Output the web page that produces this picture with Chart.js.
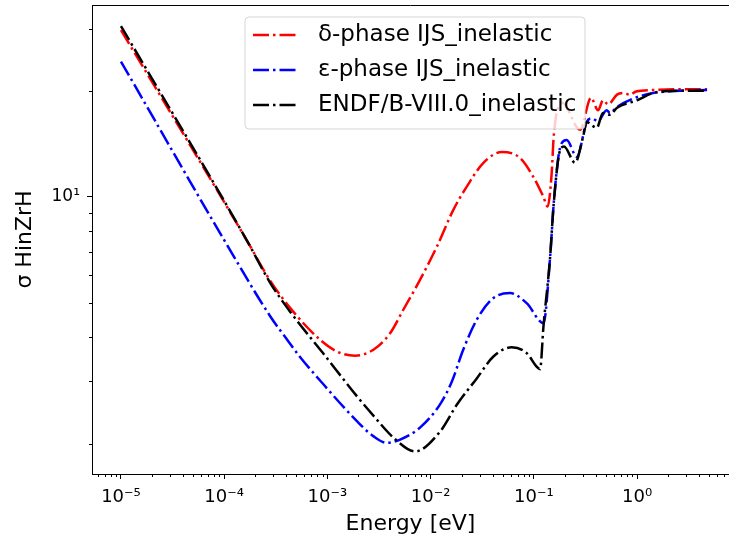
<!DOCTYPE html>
<html lang="en">

<head>
    <meta charset="UTF-8">
    <title>HinZrH inelastic cross section</title>
    <script src="https://cdn.jsdelivr.net/npm/chart.js"></script>
    <style>
        html, body { margin: 0; padding: 0; overflow: hidden; background: #fff; }
    </style>
</head>

<body>
    <canvas id="chart" width="729" height="541"></canvas>

    <script>
        // values (energy in eV, sigma in barn)
        var deltaE = [1e-5, 1.65e-4, 2.78e-4, 4.35e-4, 8.47e-4, 1.23e-3, 1.85e-3, 2.79e-3, 4.05e-3, 5.44e-3, 7.89e-3,
            1.15e-2, 1.66e-2, 2.24e-2, 3.25e-2, 4.89e-2, 7.35e-2, 9.89e-2, 0.124, 0.136, 0.149, 0.155, 0.164, 0.188,
            0.281, 0.358, 0.419, 0.468, 0.524, 0.640, 0.732, 0.855, 0.977, 1.43, 2.61, 4.77];
        var deltaSigma = [29.7, 7.55, 5.80, 4.85, 3.94, 3.65, 3.55, 3.69, 4.11, 4.79, 5.82,
            7.23, 9.19, 10.7, 12.5, 13.4, 12.9, 11.4, 10.0, 9.39, 11.7, 14.5, 16.9, 18.5,
            15.5, 19.1, 17.6, 18.8, 18.3, 19.5, 19.7, 19.5, 19.9, 20.1, 20.2, 20.2];

        var epsE = [1e-5, 1.0e-4, 2.78e-4, 4.35e-4, 5.43e-4, 9.1e-4, 1.92e-3, 2.78e-3, 3.75e-3, 5.0e-3, 7.89e-3,
            1.23e-2, 1.6e-2, 2.07e-2, 2.80e-2, 4.06e-2, 5.88e-2, 8.53e-2, 0.124, 0.144, 0.155, 0.173, 0.186, 0.208,
            0.261, 0.325, 0.364, 0.418, 0.508, 0.547, 0.640, 0.914, 1.43, 2.61, 4.77];
        var epsSigma = [24.2, 7.55, 4.60, 3.84, 3.52, 2.95, 2.32, 2.10, 2.01, 2.05, 2.22,
            2.58, 2.99, 3.69, 4.49, 5.17, 5.34, 5.00, 4.39, 6.78, 9.39, 13.0, 14.2, 14.5,
            13.0, 16.3, 16.7, 16.4, 17.6, 17.3, 18.0, 19.0, 19.7, 20.0, 20.1];

        var endfE = [1e-5, 1.65e-4, 2.78e-4, 4.35e-4, 9.06e-4, 1.92e-3, 2.79e-3, 4.36e-3, 7.06e-3, 1.23e-2, 1.80e-2,
            2.80e-2, 4.06e-2, 6.11e-2, 8.53e-2, 0.107, 0.115, 0.124, 0.144, 0.155, 0.180, 0.196, 0.251, 0.300,
            0.325, 0.407, 0.468, 0.547, 0.640, 1.0, 1.43, 2.61, 4.77];
        var endfSigma = [30.5, 7.55, 5.72, 4.73, 3.61, 2.73, 2.40, 2.08, 1.90, 2.16, 2.58,
            3.06, 3.53, 3.75, 3.61, 3.30, 3.25, 4.30, 6.78, 9.39, 13.6, 13.9, 12.5, 14.8,
            16.3, 15.7, 17.3, 17.1, 17.9, 18.8, 19.7, 20.0, 20.0];

        var seriesLabels = ['δ-phase IJS_inelastic', 'ε-phase IJS_inelastic', 'ENDF/B-VIII.0_inelastic'];
        var seriesColors = ['#ff0000', '#0000ff', '#000000'];

        var xTicks = [1e-5, 1e-4, 1e-3, 1e-2, 1e-1, 1];
        var xTickLabels = ['10⁻⁵', '10⁻⁴', '10⁻³', '10⁻²', '10⁻¹', '10⁰'];
        var yTicks = [10];
        var yTickLabels = ['10¹'];
        var yMinorTicks = [2, 3, 4, 5, 6, 7, 8, 9, 20, 30];

        var FONT = 'DejaVu Sans';
        var dashDot = [16, 4, 2.5, 4];

        function toPoints(xs, ys) {
            return xs.map(function (x, i) { return { x: x, y: ys[i] }; });
        }

        // top spine, minor ticks and the legend box
        var framePlugin = {
            id: 'frame',
            afterDraw: function (chart) {
                var ctx = chart.ctx;
                var a = chart.chartArea;
                var xs = chart.scales.x, ys = chart.scales.y;
                ctx.save();
                ctx.strokeStyle = '#000';
                ctx.lineWidth = 1;
                ctx.beginPath();
                ctx.moveTo(a.left, a.top + 0.5);
                ctx.lineTo(a.right, a.top + 0.5);
                ctx.stroke();

                // minor ticks
                ctx.beginPath();
                for (var e = -6; e <= 1; e++) {
                    for (var m = 2; m <= 9; m++) {
                        var v = m * Math.pow(10, e);
                        if (v < xs.min || v > xs.max) continue;
                        var px = Math.round(xs.getPixelForValue(v)) + 0.5;
                        ctx.moveTo(px, a.bottom);
                        ctx.lineTo(px, a.bottom + 3);
                    }
                }
                yMinorTicks.forEach(function (v) {
                    if (v < ys.min || v > ys.max) return;
                    var py = Math.round(ys.getPixelForValue(v)) + 0.5;
                    ctx.moveTo(a.left, py);
                    ctx.lineTo(a.left - 3, py);
                });
                ctx.stroke();

                // legend
                var bx = 245, by = 17, bw = 340, bh = 112, r = 4;
                ctx.beginPath();
                ctx.moveTo(bx + r, by);
                ctx.arcTo(bx + bw, by, bx + bw, by + bh, r);
                ctx.arcTo(bx + bw, by + bh, bx, by + bh, r);
                ctx.arcTo(bx, by + bh, bx, by, r);
                ctx.arcTo(bx, by, bx + bw, by, r);
                ctx.closePath();
                ctx.fillStyle = 'rgba(255,255,255,0.8)';
                ctx.fill();
                ctx.strokeStyle = 'rgba(204,204,204,0.8)';
                ctx.lineWidth = 1;
                ctx.stroke();

                ctx.font = '23px "' + FONT + '"';
                ctx.textBaseline = 'middle';
                ctx.textAlign = 'left';
                chart.data.datasets.forEach(function (ds, i) {
                    var ry = by + 18 + i * 35;
                    ctx.strokeStyle = ds.borderColor;
                    ctx.lineWidth = 2.5;
                    ctx.setLineDash(dashDot);
                    ctx.beginPath();
                    ctx.moveTo(253, ry);
                    ctx.lineTo(298, ry);
                    ctx.stroke();
                    ctx.setLineDash([]);
                    ctx.fillStyle = '#000';
                    ctx.fillText(ds.label, 318, ry);
                });
                ctx.restore();
            }
        };

        var datasets = [
            [deltaE, deltaSigma],
            [epsE, epsSigma],
            [endfE, endfSigma]
        ].map(function (s, i) {
            return {
                label: seriesLabels[i],
                data: toPoints(s[0], s[1]),
                borderColor: seriesColors[i],
                backgroundColor: seriesColors[i],
                borderWidth: 2.5,
                borderDash: dashDot,
                pointRadius: 0,
                cubicInterpolationMode: 'monotone',
                fill: false,
                order: 3 - i
            };
        });

        Chart.defaults.font.family = FONT;
        Chart.defaults.color = '#000';

        new Chart(document.getElementById('chart'), {
            type: 'line',
            data: { datasets: datasets },
            options: {
                responsive: false,
                animation: false,
                devicePixelRatio: 1,
                layout: { padding: { top: 5, right: 0, left: 0, bottom: 0 } },
                plugins: { legend: { display: false }, tooltip: { enabled: false } },
                scales: {
                    x: {
                        type: 'logarithmic',
                        bounds: 'data',
                        min: 5.24e-6,
                        max: 7.78,
                        afterBuildTicks: function (s) { s.ticks = xTicks.map(function (v) { return { value: v }; }); },
                        afterFit: function (s) { s.height = 67; s.paddingLeft = 0; s.paddingRight = 0; },
                        ticks: {
                            autoSkip: false,
                            maxRotation: 0,
                            padding: 8,
                            font: { size: 18 },
                            color: '#000',
                            callback: function (v, i) { return xTickLabels[i]; }
                        },
                        grid: { drawOnChartArea: false, drawTicks: true, tickLength: 5, tickColor: '#000' },
                        border: { display: true, color: '#000', width: 1 },
                        title: { display: true, text: 'Energy [eV]', font: { size: 22 }, color: '#000', padding: { top: 0, bottom: 4 } }
                    },
                    y: {
                        type: 'logarithmic',
                        bounds: 'data',
                        min: 1.64,
                        max: 35.0,
                        afterBuildTicks: function (s) { s.ticks = yTicks.map(function (v) { return { value: v }; }); },
                        afterFit: function (s) { s.width = 92; s.paddingTop = 0; s.paddingBottom = 0; },
                        ticks: {
                            autoSkip: false,
                            padding: 7,
                            font: { size: 17 },
                            color: '#000',
                            callback: function (v, i) { return yTickLabels[i]; }
                        },
                        grid: { drawOnChartArea: false, drawTicks: true, tickLength: 5, tickColor: '#000' },
                        border: { display: true, color: '#000', width: 1 },
                        title: { display: true, text: 'σ HinZrH', font: { size: 22 }, color: '#000', padding: { top: 12, bottom: 0 } }
                    }
                }
            },
            plugins: [framePlugin]
        });
    </script>

</body>

</html>
